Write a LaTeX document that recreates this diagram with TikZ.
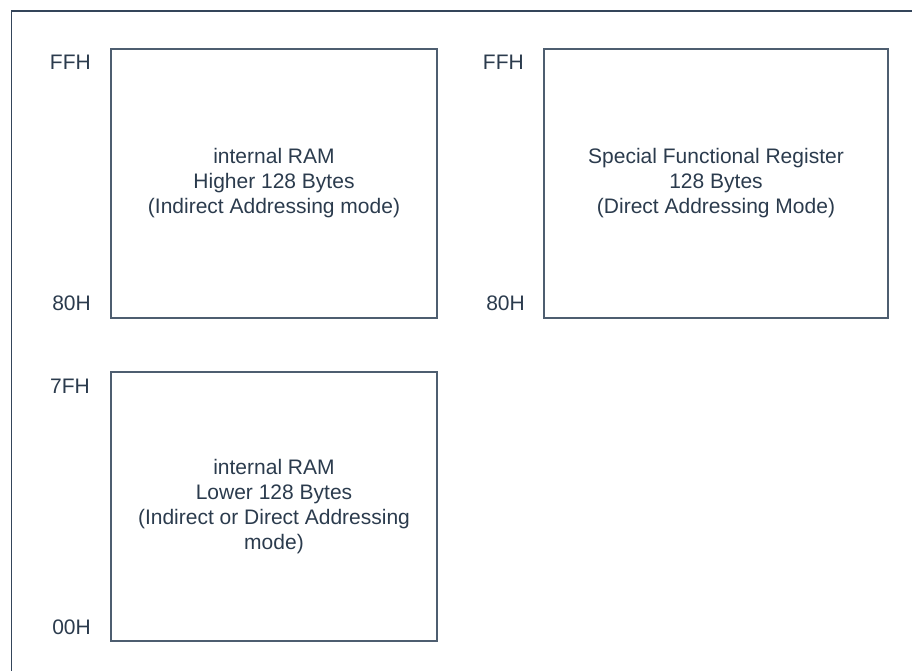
\documentclass[tikz,border=0pt]{standalone}
\usepackage{fontspec}
\setmainfont{Liberation Sans}
\definecolor{txt}{HTML}{2B3B4D}
\definecolor{frm}{HTML}{34455A}
\definecolor{bx}{HTML}{4E5E70}
\begin{document}
\begin{tikzpicture}[x=1pt,y=-1pt,
  membox/.style={draw=bx,line width=1.1pt},
  addr/.style={text=txt,font=\fontsize{21}{25}\selectfont,anchor=east,inner sep=0pt},
  desc/.style={text=txt,font=\fontsize{21}{25}\selectfont,align=center,inner sep=0pt}]
\useasboundingbox (0,0) rectangle (912,670);
\coordinate (fb) at (11.5,672);
\coordinate (ft) at (11.5,11);
\coordinate (fr) at (914,11);
\draw[frm,line width=1.3pt] (fb) -- (ft) -- (fr);
% boxes
\draw[membox] (111,49) rectangle (437,318);
\draw[membox] (544,49) rectangle (888,318);
\draw[membox] (111,372) rectangle (437,641);
\node[desc] (t1) at (274,183.5) {internal RAM\\Higher 128 Bytes\\(Indirect Addressing mode)};
\node[desc] (t2) at (716,183.5) {Special Functional Register\\128 Bytes\\(Direct Addressing Mode)};
\node[desc] (t3) at (274,507) {internal RAM\\Lower 128 Bytes\\(Indirect or Direct Addressing\\mode)};
% address labels
\node[addr] (a1) at (91,62.5) {FFH};
\node[addr] (a2) at (91,303) {80H};
\node[addr] (a3) at (524,62.5) {FFH};
\node[addr] (a4) at (525,303) {80H};
\node[addr] (a5) at (90,386) {7FH};
\node[addr] (a6) at (91,627) {00H};
\end{tikzpicture}
\end{document}
